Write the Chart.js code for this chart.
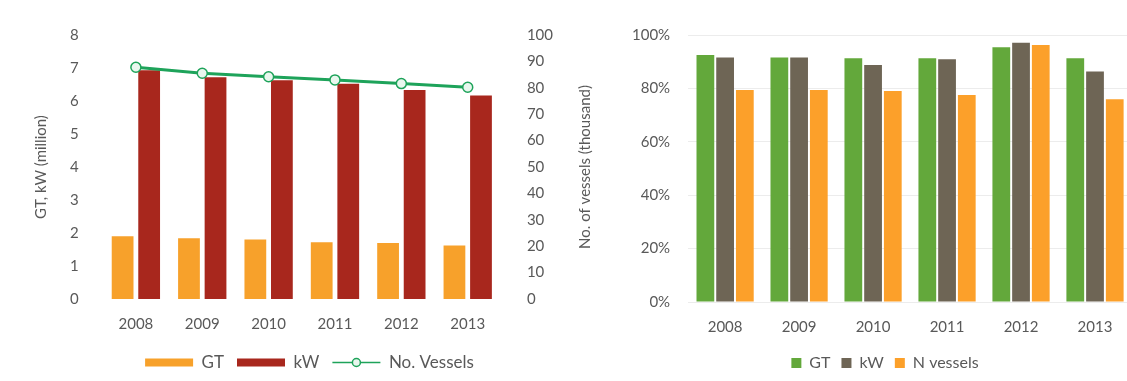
<!DOCTYPE html>
<html>
<head>
<meta charset="utf-8">
<script src="https://cdn.jsdelivr.net/npm/chart.js@4.4.1/dist/chart.umd.min.js"></script>
<style>
  html, body { margin: 0; padding: 0; background: #fff; overflow: hidden; }
  #wrap { position: relative; width: 1127px; height: 381px; overflow: hidden; }
  #left { position: absolute; left: 0; top: 0; }
  #right { position: absolute; left: 600px; top: 0; }
</style>
</head>
<body>
<div id="wrap">
  <canvas id="left" width="610" height="381"></canvas>
  <canvas id="right" width="532" height="381"></canvas>
</div>
<script>
// data
const years = ['2008', '2009', '2010', '2011', '2012', '2013'];
const gtMillion = [1.9, 1.84, 1.8, 1.72, 1.7, 1.62];
const kwMillion = [6.93, 6.72, 6.63, 6.52, 6.33, 6.17];
const vesselsThousand = [87.8, 85.5, 84.2, 83.0, 81.6, 80.2];

const shareGT = [92.5, 91.6, 91.3, 91.3, 95.4, 91.3];
const shareKW = [91.6, 91.6, 88.8, 90.9, 97.1, 86.3];
const shareN = [79.4, 79.4, 79.0, 77.5, 96.3, 75.9];

const txt = '#595959';
const green = '#1ea35a';
const font = 'Lato, "Liberation Sans", sans-serif';
Chart.defaults.font.family = font;
Chart.defaults.color = txt;
Chart.defaults.animation = false;
Chart.defaults.responsive = false;

const legendOrder = ['GT', 'kW', 'No. Vessels'];

// nudge a legend sideways without moving the plot
const legendShift = px => ({
    id: 'legendShift',
    afterLayout(chart) {
        chart.legend.left += px;
        chart.legend.right += px;
    }
});

// right axis title reads bottom-to-top like the left one,
// and a marker in the middle of the line legend swatch
const extras = {
    id: 'extras',
    afterDraw(chart) {
        const ctx = chart.ctx, a = chart.chartArea;
        ctx.save();
        ctx.translate(585, (a.top + a.bottom) / 2);
        ctx.rotate(-Math.PI / 2);
        ctx.fillStyle = txt;
        ctx.font = '15px ' + font;
        ctx.textAlign = 'center';
        ctx.textBaseline = 'middle';
        ctx.fillText('No. of vessels (thousand)', 0, 0);
        ctx.restore();

        const box = chart.legend.legendHitBoxes[2];
        if (box) {
            const cx = box.left + 24, cy = box.top + box.height / 2;
            ctx.save();
            ctx.beginPath();
            ctx.arc(cx, cy, 4, 0, Math.PI * 2);
            ctx.fillStyle = '#e9f7ee';
            ctx.fill();
            ctx.lineWidth = 1.5;
            ctx.strokeStyle = green;
            ctx.stroke();
            ctx.restore();
        }
    }
};

new Chart(document.getElementById('left'), {
    data: {
        labels: years,
        datasets: [{
            type: 'line',
            label: 'No. Vessels',
            data: vesselsThousand,
            yAxisID: 'y1',
            borderColor: green,
            borderWidth: 3,
            pointRadius: 5,
            pointBorderWidth: 1.5,
            pointBackgroundColor: '#e9f7ee',
            pointBorderColor: green,
            order: 0
        }, {
            type: 'bar',
            label: 'GT',
            data: gtMillion,
            backgroundColor: '#f7a12b',
            categoryPercentage: 0.8,
            barPercentage: 0.82,
            order: 1
        }, {
            type: 'bar',
            label: 'kW',
            data: kwMillion,
            backgroundColor: '#a8271d',
            categoryPercentage: 0.8,
            barPercentage: 0.82,
            order: 1
        }]
    },
    options: {
        layout: { padding: { left: 28, right: 39, top: 35, bottom: 0 } },
        scales: {
            x: {
                grid: { display: false },
                border: { display: false },
                ticks: { font: { size: 15 }, padding: 8 }
            },
            y: {
                min: 0, max: 8,
                ticks: { stepSize: 1, font: { size: 15 }, padding: 16 },
                grid: { display: false },
                border: { display: false },
                title: { display: true, text: 'GT, kW (million)', font: { size: 15 } }
            },
            y1: {
                position: 'right',
                min: 0, max: 100,
                ticks: { stepSize: 10, font: { size: 15 }, padding: 18 },
                grid: { display: false },
                border: { display: false }
            }
        },
        plugins: {
            legend: {
                position: 'bottom',
                labels: {
                    usePointStyle: true,
                    pointStyleWidth: 48,
                    boxHeight: 8,
                    boxWidth: 48,
                    padding: 13,
                    font: { size: 17 },
                    generateLabels(chart) {
                        const items = Chart.defaults.plugins.legend.labels.generateLabels(chart);
                        items.forEach(it => {
                            it.pointStyle = it.text === 'No. Vessels' ? 'line' : 'rect';
                        });
                        return items;
                    },
                    sort: (a, b) => legendOrder.indexOf(a.text) - legendOrder.indexOf(b.text)
                }
            },
            tooltip: { enabled: false }
        }
    },
    plugins: [legendShift(10), extras]
});

new Chart(document.getElementById('right'), {
    type: 'bar',
    data: {
        labels: years,
        datasets: [{
            label: 'GT',
            data: shareGT,
            backgroundColor: '#63a83b'
        }, {
            label: 'kW',
            data: shareKW,
            backgroundColor: '#6e6555'
        }, {
            label: 'N vessels',
            data: shareN,
            backgroundColor: '#fca02a'
        }]
    },
    options: {
        datasets: { bar: { categoryPercentage: 0.8, barPercentage: 0.9 } },
        layout: { padding: { left: 14, right: 0, top: 35, bottom: 0 } },
        scales: {
            x: {
                grid: { display: false },
                border: { display: false },
                ticks: { font: { size: 15 }, padding: 8 }
            },
            y: {
                min: 0, max: 100,
                ticks: { stepSize: 20, font: { size: 15 }, padding: 18, callback: v => v + '%' },
                grid: { color: '#ececec', drawTicks: false },
                border: { display: false }
            }
        },
        plugins: {
            legend: {
                position: 'bottom',
                labels: { boxWidth: 10, boxHeight: 10, padding: 11, font: { size: 16 } }
            },
            tooltip: { enabled: false }
        }
    },
    plugins: [legendShift(12)]
});
</script>
</body>
</html>
